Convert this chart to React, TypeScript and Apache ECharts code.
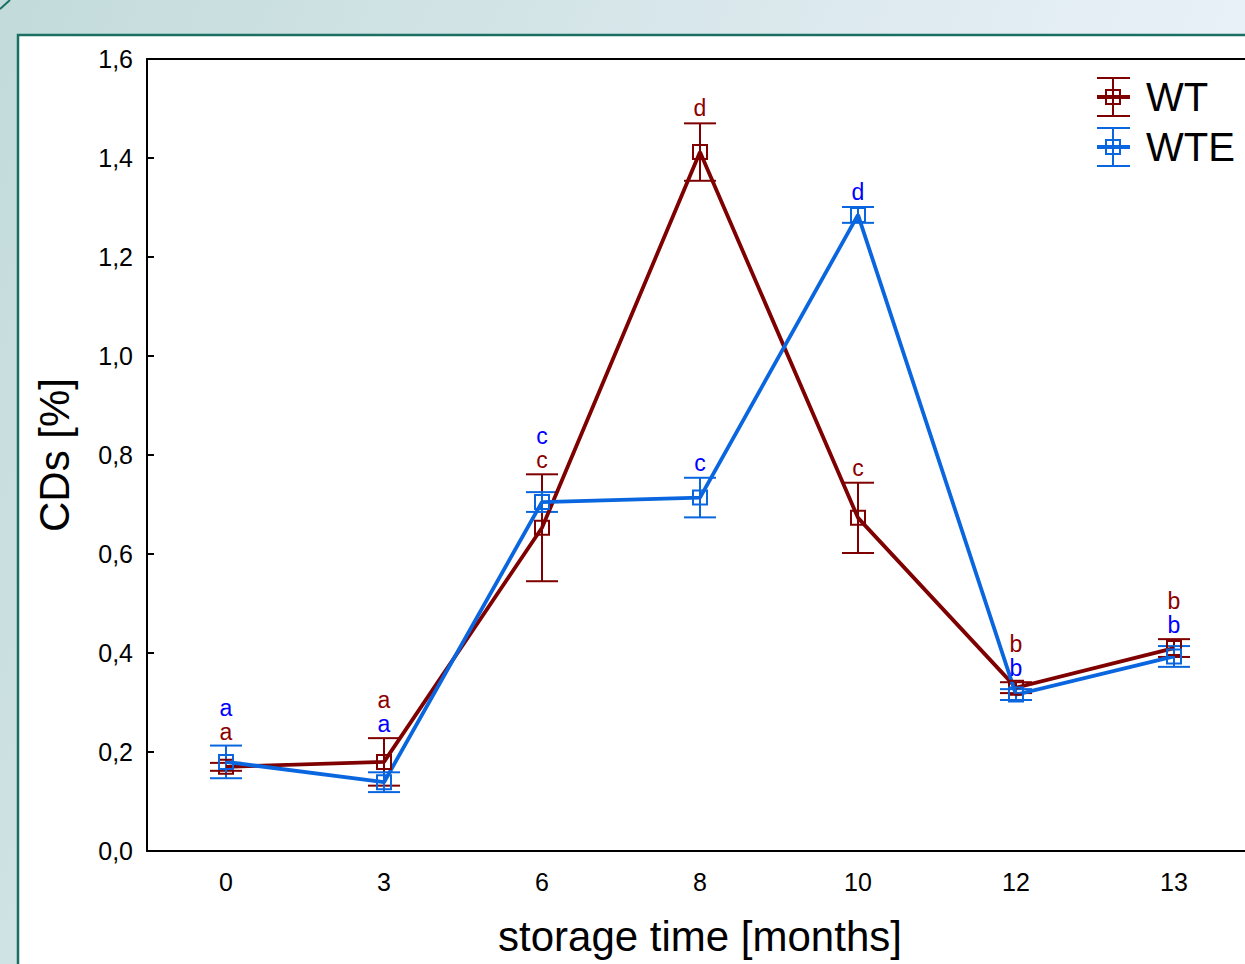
import React, { useEffect, useRef } from "react";
import * as echarts from "echarts";

const categories = ["0", "3", "6", "8", "10", "12", "13"];
const wtMean = [0.170, 0.180, 0.653, 1.412, 0.673, 0.330, 0.410];
const wtErr = [0.008, 0.048, 0.108, 0.058, 0.071, 0.011, 0.018];
const wteMean = [0.180, 0.139, 0.705, 0.714, 1.285, 0.316, 0.393];
const wteErr = [0.033, 0.020, 0.020, 0.040, 0.016, 0.011, 0.021];
const wtLetters = ["a", "a", "c", "d", "c", "b", "b"];
const wteLetters = ["a", "a", "c", "c", "d", "b", "b"];
const yTicks = { min: 0, max: 1.6, interval: 0.2 };
const seriesNames = ["WT", "WTE"];

const FONT = "'Liberation Sans', Arial, sans-serif";
const WT_COLOR = "#7f0000";
const WTE_COLOR = "#0a66de";
const WT_TEXT = "#8b0000";
const WTE_TEXT = "#0000ff";
const CANVAS_W = 1270;

function errorSeries(name: string, mean: number[], err: number[], color: string) {
  return {
    type: "custom",
    name: name + " err",
    data: mean.map((m, i) => [i, m - err[i], m + err[i]]),
    encode: { x: 0, y: [1, 2] },
    renderItem: (params: any, api: any) => {
      const i = api.value(0);
      const lo = api.coord([i, api.value(1)]);
      const hi = api.coord([i, api.value(2)]);
      const w = 16;
      const st = { stroke: color, lineWidth: 2 };
      return {
        type: "group",
        children: [
          { type: "line", shape: { x1: lo[0], y1: lo[1], x2: hi[0], y2: hi[1] }, style: st },
          { type: "line", shape: { x1: lo[0] - w, y1: lo[1], x2: lo[0] + w, y2: lo[1] }, style: st },
          { type: "line", shape: { x1: hi[0] - w, y1: hi[1], x2: hi[0] + w, y2: hi[1] }, style: st },
        ],
      };
    },
    z: 3,
  };
}

function lineSeries(name: string, mean: number[], color: string) {
  return {
    type: "line",
    name,
    data: mean,
    symbol: "rect",
    symbolSize: 14,
    lineStyle: { color, width: 3.8 },
    itemStyle: { color: "rgba(255,255,255,0)", borderColor: color, borderWidth: 2 },
    z: 3,
  };
}

function legendItem(y: number, color: string, label: string) {
  const cx = 1113;
  const st = { stroke: color, lineWidth: 2 };
  return {
    type: "group",
    children: [
      { type: "line", shape: { x1: 1097, y1: y, x2: 1130, y2: y }, style: { stroke: color, lineWidth: 4 } },
      { type: "line", shape: { x1: cx, y1: y - 19, x2: cx, y2: y + 19 }, style: st },
      { type: "line", shape: { x1: 1097, y1: y - 19, x2: 1130, y2: y - 19 }, style: st },
      { type: "line", shape: { x1: 1097, y1: y + 19, x2: 1130, y2: y + 19 }, style: st },
      { type: "rect", shape: { x: cx - 7, y: y - 7, width: 14, height: 14 }, style: { fill: "none", stroke: color, lineWidth: 2 } },
      {
        type: "text",
        style: { text: label, x: 1146, y, fill: "#000", fontSize: 40, fontFamily: FONT, verticalAlign: "middle", align: "left" },
      },
    ],
  };
}

export default function App() {
  const ref = useRef<HTMLDivElement>(null);
  useEffect(() => {
    if (!ref.current) return;
    const chart = echarts.init(ref.current, undefined, { renderer: "svg" });
    const option: any = {
      animation: false,
      backgroundColor: "transparent",
      textStyle: { fontFamily: FONT },
      graphic: [
        {
          type: "rect",
          z: -10,
          silent: true,
          shape: { x: 0, y: 0, width: CANVAS_W, height: 964 },
          style: {
            fill: new echarts.graphic.LinearGradient(0, 0, 1, 0.3, [
              { offset: 0, color: "#c3dbdb" },
              { offset: 1, color: "#edf3fb" },
            ]),
          },
        },
        {
          type: "line",
          z: -9,
          silent: true,
          shape: { x1: 0, y1: 9, x2: 10, y2: 0 },
          style: { stroke: "#1b6f62", lineWidth: 2 },
        },
        {
          type: "rect",
          z: -8,
          silent: true,
          shape: { x: 18, y: 35, width: 1300, height: 1000 },
          style: { fill: "#ffffff", stroke: "#1b6f62", lineWidth: 2.5 },
        },
        legendItem(97, WT_COLOR, seriesNames[0]),
        legendItem(147, WTE_COLOR, seriesNames[1]),
      ],
      grid: { left: 147, top: 59, width: 1106, height: 792, show: false },
      xAxis: [
        {
          type: "category",
          data: categories,
          boundaryGap: true,
          axisLine: { lineStyle: { color: "#000", width: 2 } },
          axisTick: { inside: true, length: 7, alignWithLabel: true, lineStyle: { color: "#000", width: 2 } },
          axisLabel: { color: "#000", fontSize: 25, fontFamily: FONT, margin: 18 },
          splitLine: { show: false },
          name: "storage time [months]",
          nameLocation: "middle",
          nameGap: 64,
          nameTextStyle: { color: "#000", fontSize: 42, fontFamily: FONT },
        },
        {
          type: "category",
          data: categories,
          position: "top",
          boundaryGap: true,
          axisLine: { lineStyle: { color: "#000", width: 2 } },
          axisTick: { inside: true, length: 7, alignWithLabel: true, lineStyle: { color: "#000", width: 2 } },
          axisLabel: { show: false },
        },
      ],
      yAxis: {
        type: "value",
        min: yTicks.min,
        max: yTicks.max,
        interval: yTicks.interval,
        axisLine: { show: true, lineStyle: { color: "#000", width: 2 } },
        axisTick: { show: true, inside: true, length: 7, lineStyle: { color: "#000", width: 2 } },
        axisLabel: {
          color: "#000",
          fontSize: 25,
          fontFamily: FONT,
          margin: 14,
          formatter: (v: number) => v.toFixed(1).replace(".", ","),
        },
        splitLine: { show: false },
        name: "CDs [%]",
        nameLocation: "middle",
        nameGap: 72,
        nameRotate: 90,
        nameTextStyle: { color: "#000", fontSize: 42, fontFamily: FONT },
      },
      series: [
        errorSeries("WT", wtMean, wtErr, WT_COLOR),
        lineSeries("WT", wtMean, WT_COLOR),
        errorSeries("WTE", wteMean, wteErr, WTE_COLOR),
        lineSeries("WTE", wteMean, WTE_COLOR),
        {
          type: "custom",
          name: "letters",
          data: categories.map((_, i) => [i, wtMean[i] + wtErr[i], wteMean[i] + wteErr[i]]),
          encode: { x: 0, y: [1, 2] },
          z: 4,
          renderItem: (params: any, api: any) => {
            const i = api.value(0);
            const a = api.coord([i, api.value(1)]);
            const b = api.coord([i, api.value(2)]);
            let yWT: number;
            let yWTE: number;
            if (Math.abs(a[1] - b[1]) < 60) {
              const top = Math.min(a[1], b[1]);
              if (wtMean[i] >= wteMean[i]) {
                yWT = top - 38;
                yWTE = top - 14;
              } else {
                yWT = top - 14;
                yWTE = top - 38;
              }
            } else {
              yWT = a[1] - 15;
              yWTE = b[1] - 15;
            }
            const mk = (t: string, y: number, fill: string) => ({
              type: "text",
              style: { text: t, x: a[0], y, fill, fontSize: 23, fontFamily: FONT, align: "center", verticalAlign: "middle" },
            });
            return {
              type: "group",
              children: [mk(wtLetters[i], yWT, WT_TEXT), mk(wteLetters[i], yWTE, WTE_TEXT)],
            };
          },
        },
      ],
    };
    chart.setOption(option);
    return () => chart.dispose();
  }, []);
  return (
    <div style={{ position: "absolute", left: 0, top: 0, width: 1245, height: 964, overflow: "hidden" }}>
      <div ref={ref} style={{ width: CANVAS_W, height: 964 }} />
    </div>
  );
}
